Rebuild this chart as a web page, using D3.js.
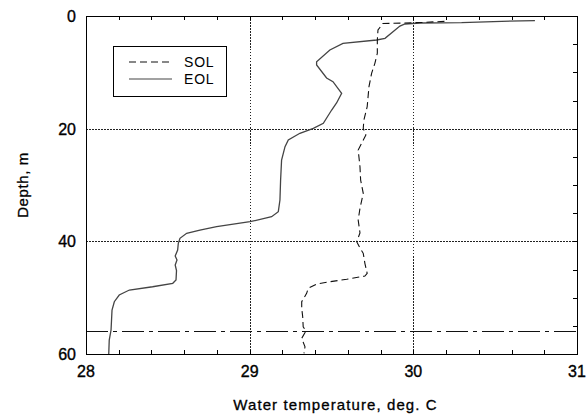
<!DOCTYPE html>
<html>
<head>
<meta charset="utf-8">
<script src="https://cdn.jsdelivr.net/npm/d3@7"></script>
<style>
  html, body { margin: 0; padding: 0; background: #fff; }
  svg { display: block; font-family: "Liberation Sans", Arial, sans-serif; }
</style>
</head>
<body>
<svg id="chart" width="588" height="418"></svg>
<script>
// Temperature profiles: [temperature °C, depth m]
const solProfile = [
  [30.19, 0.95], [30.05, 1.15], [29.93, 1.25], [29.814, 1.33], [29.784, 2.49],
  [29.780, 4.26], [29.780, 6.62], [29.765, 8.40], [29.745, 10.17], [29.729, 12.55],
  [29.718, 16.10], [29.698, 18.46], [29.694, 19.94], [29.710, 21.13], [29.663, 23.79],
  [29.674, 26.75], [29.678, 29.11], [29.694, 31.48], [29.674, 34.14], [29.663, 36.22],
  [29.674, 38.52], [29.654, 40.07], [29.674, 41.19], [29.694, 42.13], [29.704, 43.90],
  [29.718, 45.68], [29.704, 46.16], [29.593, 46.74], [29.491, 47.17], [29.409, 47.58],
  [29.358, 48.34], [29.348, 49.23], [29.318, 50.72], [29.318, 51.89], [29.324, 53.38],
  [29.327, 55.16], [29.344, 55.92], [29.318, 57.22], [29.338, 58.71], [29.332, 59.88]
];
const eolProfile = [
  [30.743, 0.83], [30.539, 0.94], [30.295, 1.19], [30.040, 1.24], [29.949, 1.42],
  [29.918, 1.78], [29.827, 3.96], [29.776, 4.26], [29.570, 4.85], [29.490, 6.04],
  [29.409, 8.11], [29.409, 8.70], [29.470, 11.00], [29.509, 11.66], [29.562, 13.72],
  [29.531, 15.44], [29.501, 16.69], [29.450, 19.05], [29.389, 19.94], [29.307, 20.82],
  [29.236, 22.01], [29.216, 23.20], [29.195, 25.56], [29.189, 29.11], [29.185, 32.66],
  [29.175, 34.74], [29.134, 35.63], [29.002, 36.52], [28.798, 37.40], [28.696, 38.00],
  [28.615, 38.58], [28.574, 39.46], [28.564, 40.35], [28.560, 41.54], [28.545, 42.6],
  [28.556, 43.3], [28.545, 44.2], [28.553, 45.2], [28.550, 46.87], [28.530, 47.45],
  [28.407, 48.06], [28.265, 48.64], [28.203, 49.53], [28.173, 50.72], [28.159, 52.19],
  [28.153, 55.74], [28.142, 57.52], [28.139, 60.00]
];
const mixedLayerDepth = [56];
const xTicks = [28, 29, 30, 31];
const yTicks = [0, 20, 40, 60];
const seriesNames = ["SOL", "EOL"];
const xTitle = "Water temperature, deg. C";
const yTitle = "Depth, m";

const svg = d3.select("#chart");
const plotLeft = 86, plotRight = 577, plotTop = 16, plotBottom = 354;

const x = d3.scaleLinear().domain([28, 31]).range([plotLeft, plotRight]);
const y = d3.scaleLinear().domain([0, 60]).range([plotTop, plotBottom]);

// grid
const grid = svg.append("g").attr("stroke", "#222").attr("stroke-width", 1)
  .attr("stroke-dasharray", "1.5,1.5").attr("shape-rendering", "crispEdges");
xTicks.filter(v => v > 28 && v < 31).forEach(v => {
  grid.append("line").attr("x1", Math.round(x(v)) + 0.5).attr("x2", Math.round(x(v)) + 0.5)
    .attr("y1", plotTop).attr("y2", plotBottom);
});
yTicks.filter(v => v > 0 && v < 60).forEach(v => {
  grid.append("line").attr("y1", Math.round(y(v)) + 0.5).attr("y2", Math.round(y(v)) + 0.5)
    .attr("x1", plotLeft).attr("x2", plotRight);
});

// minor ticks (inward) on top, bottom and right
const ticks = svg.append("g").attr("stroke", "#000").attr("shape-rendering", "crispEdges");
d3.range(28, 31.001, 0.2).forEach(v => {
  const px = Math.round(x(v)) + 0.5;
  ticks.append("line").attr("x1", px).attr("x2", px).attr("y1", plotTop).attr("y2", plotTop + 4);
  ticks.append("line").attr("x1", px).attr("x2", px).attr("y1", plotBottom).attr("y2", plotBottom - 4);
});
d3.range(0, 60.001, 5).forEach(v => {
  const py = Math.round(y(v)) + 0.5;
  ticks.append("line").attr("x1", plotRight).attr("x2", plotRight - 4).attr("y1", py).attr("y2", py);
});

// mixed layer depth (dash-dot)
svg.append("g").selectAll("line").data(mixedLayerDepth).join("line")
  .attr("x1", plotLeft).attr("x2", plotRight)
  .attr("y1", d => Math.round(y(d)) + 0.5).attr("y2", d => Math.round(y(d)) + 0.5)
  .attr("stroke", "#111").attr("stroke-width", 1)
  .attr("stroke-dasharray", "22,5,4,5");

// profiles
const line = d3.line().x(d => x(d[0])).y(d => y(d[1]));
svg.append("path").datum(eolProfile).attr("d", line)
  .attr("fill", "none").attr("stroke", "#444").attr("stroke-width", 1.3);
svg.append("path").datum(solProfile).attr("d", line)
  .attr("fill", "none").attr("stroke", "#111").attr("stroke-width", 1.1)
  .attr("stroke-dasharray", "7,4");

// frame
svg.append("rect").attr("x", plotLeft + 0.5).attr("y", plotTop + 0.5)
  .attr("width", plotRight - plotLeft).attr("height", plotBottom - plotTop)
  .attr("fill", "none").attr("stroke", "#000").attr("stroke-width", 1)
  .attr("shape-rendering", "crispEdges");

// tick labels
svg.append("g").selectAll("text").data(xTicks).join("text")
  .attr("x", d => x(d)).attr("y", 377)
  .attr("text-anchor", "middle").attr("font-size", 16).attr("fill", "#000")
  .attr("stroke", "#000").attr("stroke-width", 0.35)
  .text(d => d);
svg.append("g").selectAll("text").data(yTicks).join("text")
  .attr("x", 76).attr("y", d => y(d) + 6)
  .attr("text-anchor", "end").attr("font-size", 16).attr("fill", "#000")
  .attr("stroke", "#000").attr("stroke-width", 0.35)
  .text(d => d);

// axis titles
svg.append("text").attr("x", (plotLeft + plotRight) / 2 + 4).attr("y", 410)
  .attr("text-anchor", "middle").attr("font-size", 15).attr("letter-spacing", 1.1)
  .attr("fill", "#000").attr("stroke", "#000").attr("stroke-width", 0.3).text(xTitle);
svg.append("text").attr("transform", `translate(28,${(plotTop + plotBottom) / 2}) rotate(-90)`)
  .attr("text-anchor", "middle").attr("font-size", 15).attr("letter-spacing", 0.6)
  .attr("fill", "#000").attr("stroke", "#000").attr("stroke-width", 0.3).text(yTitle);

// legend
const lg = svg.append("g");
lg.append("rect").attr("x", 113.5).attr("y", 46.5).attr("width", 113).attr("height", 50)
  .attr("fill", "#fff").attr("stroke", "#000").attr("shape-rendering", "crispEdges");
const styles = [{ dash: "7,4", stroke: "#111" }, { dash: null, stroke: "#444" }];
seriesNames.forEach((name, i) => {
  const ly = 62 + i * 17;
  lg.append("line").attr("x1", 129).attr("x2", 172).attr("y1", ly).attr("y2", ly)
    .attr("stroke", styles[i].stroke).attr("stroke-width", 1.1)
    .attr("stroke-dasharray", styles[i].dash);
  lg.append("text").attr("x", 184).attr("y", ly + 5).attr("font-size", 14)
    .attr("letter-spacing", 0.8).attr("fill", "#000").text(name);
});
</script>
</body>
</html>
